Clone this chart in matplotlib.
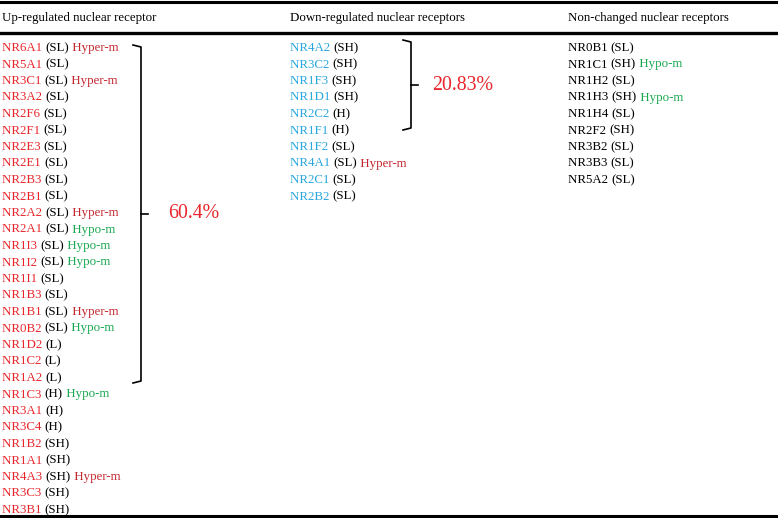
import matplotlib
matplotlib.use('Agg')
from matplotlib import pyplot as plt

# receptor name, expression level, methylation status
up_names = ['NR6A1', 'NR5A1', 'NR3C1', 'NR3A2', 'NR2F6', 'NR2F1', 'NR2E3', 'NR2E1',
            'NR2B3', 'NR2B1', 'NR2A2', 'NR2A1', 'NR1I3', 'NR1I2', 'NR1I1', 'NR1B3',
            'NR1B1', 'NR0B2', 'NR1D2', 'NR1C2', 'NR1A2', 'NR1C3', 'NR3A1', 'NR3C4',
            'NR1B2', 'NR1A1', 'NR4A3', 'NR3C3', 'NR3B1']
up_levels = ['SL'] * 18 + ['L'] * 3 + ['H'] * 3 + ['SH'] * 5
up_meth = ['Hyper-m', '', 'Hyper-m', '', '', '', '', '', '', '', 'Hyper-m', 'Hypo-m',
           'Hypo-m', 'Hypo-m', '', '', 'Hyper-m', 'Hypo-m', '', '', '', 'Hypo-m',
           '', '', '', '', 'Hyper-m', '', '']

down_names = ['NR4A2', 'NR3C2', 'NR1F3', 'NR1D1', 'NR2C2', 'NR1F1', 'NR1F2', 'NR4A1',
              'NR2C1', 'NR2B2']
down_levels = ['SH', 'SH', 'SH', 'SH', 'H', 'H', 'SL', 'SL', 'SL', 'SL']
down_meth = ['', '', '', '', '', '', '', 'Hyper-m', '', '']

non_names = ['NR0B1', 'NR1C1', 'NR1H2', 'NR1H3', 'NR1H4', 'NR2F2', 'NR3B2', 'NR3B3', 'NR5A2']
non_levels = ['SL', 'SH', 'SL', 'SH', 'SL', 'SH', 'SL', 'SL', 'SL']
non_meth = ['', 'Hypo-m', '', 'Hypo-m', '', '', '', '', '']

headers = ['Up-regulated nuclear receptor', 'Down-regulated nuclear receptors',
           'Non-changed nuclear receptors']
up_pct = '60.4%'
down_pct = '20.83%'

RED = '#e8262c'
DARKRED = '#c4262e'
BLUE = '#2aa7df'
GREEN = '#18a84f'
FS = 9.3
FONT = 'Liberation Serif'

fig = plt.figure(figsize=(7.78, 5.18), dpi=100)
ax = fig.add_axes([0, 0, 1, 1])
ax.set_xlim(0, 778)
ax.set_ylim(518, 0)
ax.axis('off')
fig.canvas.draw()
renderer = fig.canvas.get_renderer()


def chain(x, y, parts):
    # draw coloured pieces one after another on the same line
    for s, c in parts:
        t = ax.text(x, y, s, color=c, fontsize=FS, family=FONT, va='center', ha='left')
        bb = t.get_window_extent(renderer=renderer)
        x0, _ = ax.transData.inverted().transform((bb.x1, bb.y0))
        x = x0


def column(x, names, levels, meth, color, dy=16.5, y0=48):
    for i, n in enumerate(names):
        parts = [(n + ' ', color), ('(' + levels[i] + ')', 'black')]
        if meth[i] == 'Hyper-m':
            parts.append((' Hyper-m', DARKRED))
        elif meth[i] == 'Hypo-m':
            parts.append((' Hypo-m', GREEN))
        chain(x, y0 + i * dy, parts)


def brace(x, ytop, ybot, w=8):
    ym = (ytop + ybot) / 2
    ax.plot([x - w, x, x, x - w], [ytop, ytop + 2, ybot - 2, ybot], color='black', lw=1.2)
    ax.plot([x, x + 7], [ym, ym], color='black', lw=1.2)


# table rules
ax.plot([0, 778], [2, 2], color='black', lw=2.2)
ax.plot([0, 778], [33, 33], color='black', lw=2.4)
ax.plot([0, 778], [516, 516], color='black', lw=2.2)

for hx, h in zip([2, 290, 568], headers):
    ax.text(hx, 18, h, fontsize=FS, family=FONT, va='center', ha='left')

column(2, up_names, up_levels, up_meth, RED)
column(290, down_names, down_levels, down_meth, BLUE)
column(568, non_names, non_levels, non_meth, 'black')

brace(141, 45, 383)
ax.text(168, 213, up_pct, color=RED, fontsize=14.3, family=FONT, va='center', ha='left')
brace(411, 40, 130)
ax.text(432, 86, down_pct, color=RED, fontsize=14.3, family=FONT, va='center', ha='left')

fig.savefig('out.png', dpi=100)
